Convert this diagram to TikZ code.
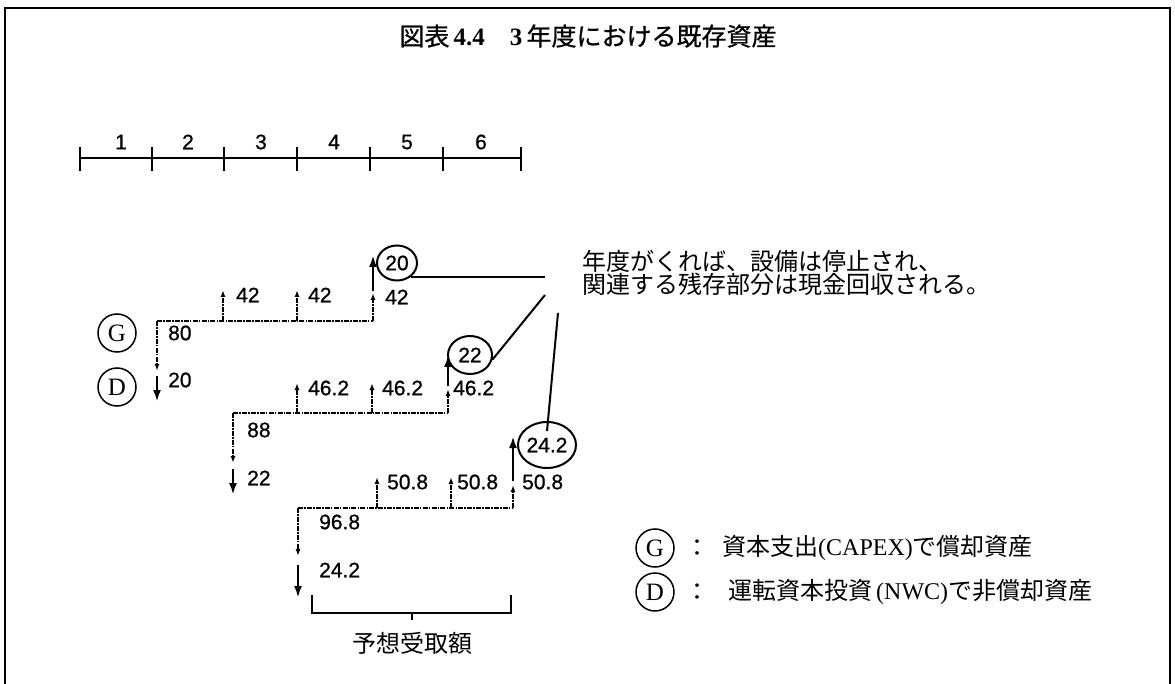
\documentclass[tikz,border=0pt]{standalone}
\usepackage{fontspec}
\setmainfont{Liberation Sans}
\newfontfamily\jp{Noto Sans CJK JP}
\newfontfamily\jpb[FakeBold=0.8]{Noto Sans CJK JP}
\newfontfamily\serifr{Liberation Serif}
\newfontfamily\numfont[FakeBold=0.8]{Liberation Sans}
\usetikzlibrary{arrows.meta,shapes.geometric}

\begin{document}
\begin{tikzpicture}[x=1pt,y=-1pt,
  num/.style={font=\numfont\fontsize{21}{22}\selectfont, inner sep=0pt, anchor=west},
  tnum/.style={font=\numfont\fontsize{21}{22}\selectfont, inner sep=0pt},
  flow/.style={line width=1.8pt, dash pattern=on 5pt off 1.2pt on 1.5pt off 1.2pt},
  smallarr/.style={flow, -{Latex[length=7pt,width=5pt]}},
  bigarr/.style={line width=2.8pt, -{Latex[length=12pt,width=8pt]}},
  tickline/.style={line width=2.2pt},
  val/.style={draw, line width=2pt, ellipse, inner sep=0pt, font=\numfont\fontsize{21}{22}\selectfont},
  letter/.style={draw, line width=1.5pt, circle, minimum size=38pt, inner sep=0pt, font=\serifr\fontsize{25}{25}\selectfont},
  jptext/.style={font=\jp\fontsize{24}{26}\selectfont, inner sep=0pt},
  conn/.style={line width=2pt}
]
\useasboundingbox (0,0) rectangle (1175,684);
% frame
\draw[line width=1.5pt] (5,684) -- (5,8) -- (1170,8) -- (1170,684);

% title
\node[jptext, font=\jpb\fontsize{25}{27}\selectfont] (title) at (588,36)
  {図表\,{\serifr\bfseries 4.4}\quad{\serifr\bfseries 3}\,年度における既存資産};

% timeline
\coordinate (t0) at (80,158);
\coordinate (t1) at (152,158);
\coordinate (t2) at (224,158);
\coordinate (t3) at (297,158);
\coordinate (t4) at (370,158);
\coordinate (t5) at (443,158);
\coordinate (t6) at (521,158);
\draw[tickline] (t0) -- (t6);
\foreach \t in {t0,t1,t2,t3,t4,t5,t6}
  \draw[tickline] ([yshift=11pt]\t) -- ([yshift=-13pt]\t);
\node[tnum] (y1) at (121,142) {1};
\node[tnum] (y2) at (188,142) {2};
\node[tnum] (y3) at (261,142) {3};
\node[tnum] (y4) at (334,142) {4};
\node[tnum] (y5) at (407,142) {5};
\node[tnum] (y6) at (481,142) {6};

% G / D markers
\node[letter] (G1) at (117,333) {G};
\node[letter] (D1) at (117,387) {D};

% value circles
\node[val, minimum width=40pt, minimum height=35pt] (c20) at (397,263) {20};
\node[val, minimum width=44pt, minimum height=38pt] (c22) at (470,355) {22};
\node[val, minimum width=58pt, minimum height=46pt] (c242) at (547,445) {24.2};

% ---------- row 1
\coordinate (r1L) at (157,321);
\coordinate (r1R) at (373,321);
\coordinate (r1m1) at (223,321);
\coordinate (r1m2) at (297,321);
\draw[flow] (r1L) -- (r1R);
\draw[smallarr] (r1L) -- ++(0,50);
\draw[bigarr] (157,376) -- (157,402);
\draw[smallarr] (r1m1) -- ++(0,-31);
\draw[smallarr] (r1m2) -- ++(0,-31);
\draw[smallarr] (r1R) -- ++(0,-28);
\draw[bigarr] (373,291) -- (373,255);
\node[num] (v80) at (168,333) {80};
\node[num] (v20) at (168,380) {20};
\node[num] (v42a) at (236,295) {42};
\node[num] (v42b) at (308,295) {42};
\node[num] (v42c) at (385,297) {42};

% ---------- row 2
\coordinate (r2L) at (233,413);
\coordinate (r2R) at (448,413);
\coordinate (r2m1) at (297,413);
\coordinate (r2m2) at (372,413);
\draw[flow] (r2L) -- (r2R);
\draw[smallarr] (r2L) -- ++(0,50);
\draw[bigarr] (233,469) -- (233,495);
\draw[smallarr] (r2m1) -- ++(0,-30);
\draw[smallarr] (r2m2) -- ++(0,-30);
\draw[smallarr] (r2R) -- ++(0,-24);
\draw[bigarr] (448,386) -- (448,355);
\node[num] (v88) at (247,430) {88};
\node[num] (v22) at (247,478) {22};
\node[num] (v462a) at (308,388) {46.2};
\node[num] (v462b) at (382,388) {46.2};
\node[num] (v462c) at (453,388) {46.2};

% ---------- row 3
\coordinate (r3L) at (298,508);
\coordinate (r3R) at (513,508);
\coordinate (r3m1) at (377,508);
\coordinate (r3m2) at (451,508);
\draw[flow] (r3L) -- (r3R);
\draw[smallarr] (r3L) -- ++(0,48);
\draw[bigarr] (298,565) -- (298,598);
\draw[smallarr] (r3m1) -- ++(0,-31);
\draw[smallarr] (r3m2) -- ++(0,-31);
\draw[smallarr] (r3R) -- ++(0,-23);
\draw[bigarr] (513,481) -- (513,436);
\node[num] (v968) at (319,522) {96.8};
\node[num] (v242) at (319,570) {24.2};
\node[num] (v508a) at (387,482) {50.8};
\node[num] (v508b) at (457,482) {50.8};
\node[num] (v508c) at (522,482) {50.8};

% bracket
\coordinate (bL) at (312,595);
\coordinate (bR) at (511,595);
\draw[line width=2pt] (bL) -- (312,613) -- (511,613) -- (bR);
\draw[line width=2pt] (412,613) -- (412,620);
\node[jptext] (recv) at (412,643) {予想受取額};

% annotation
\coordinate (a1) at (545,278);
\coordinate (a2) at (545,295);
\coordinate (a3) at (558,313);
\draw[conn] (c20.-45) -- (c20.-45 -| a1);
\draw[conn] (a2) -- (c22.-12);
\draw[conn] (a3) -- ([yshift=-10pt]c242.north);
\node[jptext, anchor=west] (note1) at (582,261) {年度がくれば、設備は停止され、};
\node[jptext, anchor=west] (note2) at (582,284) {関連する残存部分は現金回収される。};

% legend
\node[letter] (G2) at (655,548) {G};
\node[letter] (D2) at (655,592) {D};
\node[jptext] (col1) at (697,548) {：};
\node[jptext] (col2) at (697,592) {：};
\node[jptext, anchor=west] (leg1) at (722,548) {資本支出{\serifr (CAPEX)}で償却資産};
\node[jptext, anchor=west] (leg2) at (728,592) {運転資本投資\,{\serifr (NWC)}で非償却資産};
\end{tikzpicture}
\end{document}
